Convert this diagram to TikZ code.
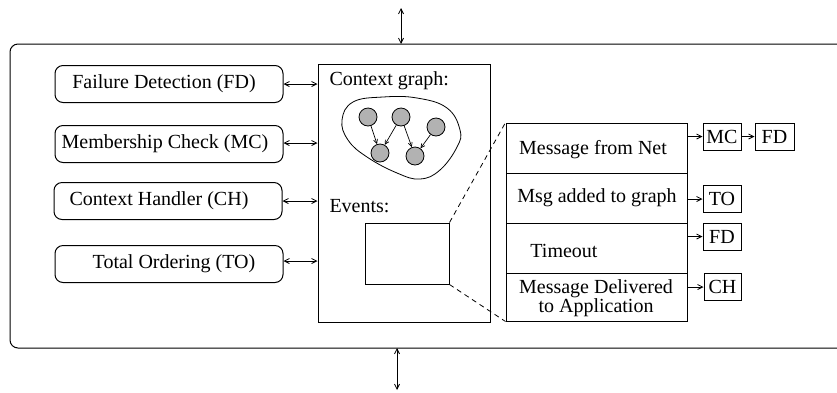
\documentclass[tikz,border=0pt]{standalone}
\usepackage{fontspec}
\setmainfont{Liberation Serif}
\usetikzlibrary{arrows.meta}
\begin{document}
\begin{tikzpicture}[x=1pt,y=-1pt,
  font=\fontsize{20}{22}\selectfont,
  line width=1pt,
  >={Straight Barb[length=5pt,width=5pt]},
  conn/.style={<->,line width=0.8pt},
  link/.style={->,line width=0.8pt},
  module/.style={draw,rounded corners=8pt,minimum width=228pt,minimum height=37pt,inner sep=0pt},
  cell/.style={draw,minimum width=181pt,inner sep=0pt,align=center},
  tag/.style={draw,minimum height=27pt,inner sep=0pt},
  vertex/.style={circle,draw,fill=gray!60,minimum size=18pt,inner sep=0pt,line width=0.8pt},
  edge/.style={->,line width=0.7pt,>={Straight Barb[length=4pt,width=4pt]}}]
\useasboundingbox (0,0) rectangle (837,392);
\clip (0,0) rectangle (837,392);

% outer component frame (open to the right)
\draw[rounded corners=8pt] (10,44) rectangle (860,348);
\coordinate (topin) at (401,8);
\coordinate (topport) at (401,44);
\coordinate (botport) at (397,348);
\coordinate (botout) at (397,390);
\draw[conn] (topin) -- (topport);
\draw[conn] (botport) -- (botout);

% protocol modules
\node[module] (fd) at (169,84) {};
\node at (164,84) {Failure Detection (FD)};
\node[module] (mc) at (169,144) {};
\node at (165,144) {Membership Check (MC)};
\node[module] (ch) at (168,201) {};
\node at (159,201) {Context Handler (CH)};
\node[module] (to) at (169,264) {};
\node at (174,264) {Total Ordering (TO)};

% shared state box
\node[draw,minimum width=172pt,minimum height=258pt,inner sep=0pt] (core) at (404,193) {};
\node[anchor=base west,inner sep=0pt] (cgl) at (329,85) {Context graph:};
\node[anchor=base west,inner sep=0pt] (evl) at (329,212) {Events:};

\draw[conn] (fd.east) -- (fd.east -| core.west);
\draw[conn] (mc.east |- 0,143) -- (core.west |- 0,143);
\draw[conn] (ch.east) -- (ch.east -| core.west);
\draw[conn] (to.east |- 0,261) -- (core.west |- 0,261);

% context graph
\draw[line width=0.8pt] plot[smooth cycle,tension=0.7] coordinates
  {(342,120) (353,102) (383,97) (417,98) (447,108) (460,130) (457,147)
   (440,170) (420,179) (397,173) (367,157) (348,140)};
\node[vertex] (v1) at (368,117) {};
\node[vertex] (v2) at (401,117) {};
\node[vertex] (v3) at (436,127) {};
\node[vertex] (v4) at (380,153) {};
\node[vertex] (v5) at (415,156) {};
\draw[edge] (v1) -- (v4);
\draw[edge] (v2) -- (v4);
\draw[edge] (v2) -- (v5);
\draw[edge] (v3) -- (v5);

% event queue
\node[draw,minimum width=84pt,minimum height=61pt,inner sep=0pt] (evq) at (407,253.5) {};

% event table
\node[cell,minimum height=50pt] (r1) at (596.5,148) {};
\node at (593,150) {Message from Net};
\node[cell,minimum height=50pt] (r2) at (596.5,198) {};
\node at (597,198) {Msg added to graph};
\node[cell,minimum height=50pt] (r3) at (596.5,248) {};
\node at (564,251) {Timeout};
\node[cell,minimum height=48pt] (r4) at (596.5,297) {};
\node[align=center,font=\fontsize{20}{19}\selectfont] at (596,298) {Message Delivered\\to Application};

\draw[dashed,line width=0.8pt,dash pattern=on 5pt off 4pt] (evq.north east) -- (r1.north west);
\draw[dashed,line width=0.8pt,dash pattern=on 5pt off 4pt] (evq.south east) -- (r4.south west);

% handlers invoked per event
\node[tag,minimum width=38pt] (tmc) at (722,136.5) {MC};
\node[tag,minimum width=39pt] (tfd) at (774.5,136.5) {FD};
\node[tag,minimum width=38pt] (tto) at (722,199) {TO};
\node[tag,minimum width=38pt] (tfd2) at (722,236.5) {FD};
\node[tag,minimum width=37pt] (tch) at (722.5,287) {CH};

\draw[link] (tmc.west -| r1.east) -- (tmc.west);
\draw[link] (tmc.east) -- (tfd.west);
\draw[link] (tto.west -| r2.east) -- (tto.west);
\draw[link] (tfd2.west -| r3.east) -- (tfd2.west);
\draw[link] (tch.west -| r4.east) -- (tch.west);
\end{tikzpicture}
\end{document}
